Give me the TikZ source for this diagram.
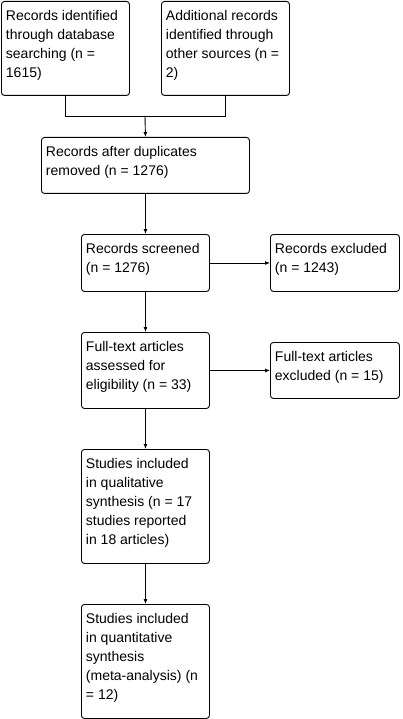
\documentclass[tikz,border=0pt]{standalone}
\usepackage{fontspec}
\setmainfont{Liberation Sans}
\usetikzlibrary{arrows.meta}
\newcommand\bxt[3]{\parbox[c][#2pt][t]{#1pt}{\raggedright\rule{0pt}{19pt}#3}}
\begin{document}
\begin{tikzpicture}[x=1pt,y=-1pt,
  bx/.style={draw, rounded corners=3pt, anchor=north west, inner xsep=4.5pt, inner ysep=0pt, line width=0.9pt, font=\fontsize{14}{19}\selectfont},
  link/.style={line width=0.9pt},
  arr/.style={line width=0.9pt, -{Latex[length=5pt,width=4pt]}}]
\useasboundingbox (0,0) rectangle (402,719);
\node[bx] (b1) at (1,1) {\bxt{119}{94}{Records identified\\ through database\\ searching (n =\\ 1615)}};
\node[bx] (b2) at (161,1) {\bxt{119}{94}{Additional records\\ identified through\\ other sources (n =\\ 2)}};
\node[bx] (b3) at (41,137) {\bxt{199}{56}{Records after duplicates\\ removed (n = 1276)}};
\node[bx] (b4) at (81,234) {\bxt{119}{57}{Records screened\\ (n = 1276)}};
\node[bx] (b5) at (270,234) {\bxt{120}{57}{Records excluded\\ (n = 1243)}};
\node[bx] (b6) at (81,332) {\bxt{119}{76}{Full-text articles\\ assessed for\\ eligibility (n = 33)}};
\node[bx] (b7) at (270,342) {\bxt{120}{56}{Full-text articles\\ excluded (n = 15)}};
\node[bx] (b8) at (81,449) {\bxt{119}{114}{Studies included\\ in qualitative\\ synthesis (n = 17\\ studies reported\\ in 18 articles)}};
\node[bx] (b9) at (81,604) {\bxt{119}{114}{Studies included\\ in quantitative\\ synthesis\\ (meta-analysis) (n\\ = 12)}};
\coordinate (j) at (145,116);
\draw[link] (b1.south) |- (j);
\draw[link] (b2.south) |- (j);
\draw[arr] (j) -- (b3.north);
\draw[arr] (b3.south) -- (b4.north);
\draw[arr] (b4.east) -- (b5.west);
\draw[arr] (b4.south) -- (b6.north);
\draw[arr] (b6.east) -- (b7.west);
\draw[arr] (b6.south) -- (b8.north);
\draw[arr] (b8.south) -- (b9.north);
\end{tikzpicture}
\end{document}
